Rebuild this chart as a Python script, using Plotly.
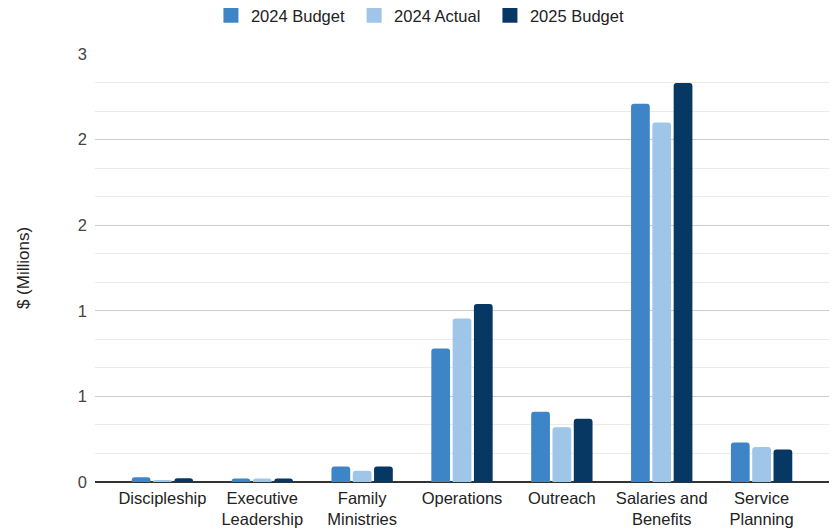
import numpy as np
import plotly.graph_objects as go

categories = ["Discipleship", "Executive<br>Leadership", "Family<br>Ministries", "Operations",
              "Outreach", "Salaries and<br>Benefits", "Service<br>Planning"]
budget_2024 = [0.028, 0.02, 0.09, 0.78, 0.41, 2.21, 0.23]
actual_2024 = [0.012, 0.02, 0.066, 0.955, 0.32, 2.10, 0.205]
budget_2025 = [0.022, 0.02, 0.09, 1.04, 0.37, 2.33, 0.19]

series_names = ["2024 Budget", "2024 Actual", "2025 Budget"]
series_colors = ["#3d85c6", "#9fc5e8", "#073763"]

tick_vals = [0, 0.5, 1.0, 1.5, 2.0, 2.5]
tick_text = ["0", "1", "1", "2", "2", "3"]

FONT = "Arial, Liberation Sans, sans-serif"

fig = go.Figure()
for name, vals, color in zip(series_names, [budget_2024, actual_2024, budget_2025], series_colors):
    fig.add_trace(go.Bar(x=categories, y=vals, name=name, showlegend=False,
                         marker=dict(color=color, line=dict(width=0), cornerradius=3)))
# legend entries with larger square swatches
for name, color in zip(series_names, series_colors):
    fig.add_trace(go.Scatter(x=[None], y=[None], name=name + "\u00a0", mode="markers",
                             marker=dict(symbol="square", size=15, color=color,
                                         line=dict(width=0)),
                             hoverinfo="skip"))

# page body has an 8px margin; figure is sized so the drawing lands on the 837x529 page
fig.update_layout(
    width=829, height=521,
    margin=dict(l=87, r=8, t=46, b=47),
    paper_bgcolor="white", plot_bgcolor="white",
    barmode="group", bargap=0.36, bargroupgap=0.12,
    font=dict(family=FONT, size=16.5, color="#222222"),
    showlegend=True,
    legend=dict(orientation="h", xref="paper", yref="container",
                x=0.4461, xanchor="center", y=0.9856, yanchor="middle",
                itemwidth=30,
                font=dict(size=16.5, color="#222222"), itemclick=False),
    xaxis=dict(range=[-0.675, 6.675], showgrid=False, showline=False, zeroline=False,
               ticks="", ticklabelstandoff=4, automargin=False,
               tickfont=dict(size=16.5, color="#222222")),
    yaxis=dict(range=[0, 2.5], tickmode="array", tickvals=tick_vals, ticktext=tick_text,
               showgrid=True, gridcolor="#cccccc", gridwidth=1,
               zeroline=True, zerolinecolor="#333333", zerolinewidth=1.5,
               showline=False, ticks="", ticklabelstandoff=7,
               tickfont=dict(size=16.5, color="#444444"),
               minor=dict(showgrid=True, gridcolor="#ebebeb", gridwidth=1,
                          tickmode="linear", tick0=0, dtick=0.5 / 3),
               title=dict(text="$ (Millions)", standoff=43,
                          font=dict(size=17, color="#222222")),
               automargin=False),
)

fig.write_html("out.html")
